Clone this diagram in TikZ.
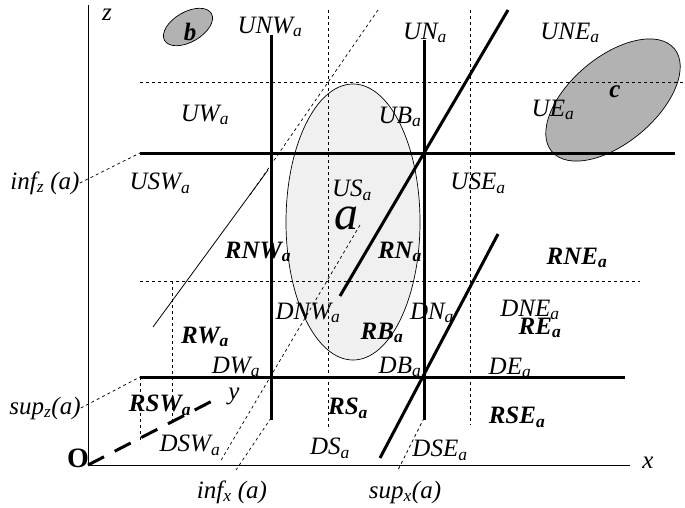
\documentclass[tikz,border=0pt]{standalone}
\usepackage{fontspec}
\setmainfont{Liberation Serif}
\begin{document}
\begin{tikzpicture}[x=1pt,y=-1pt,
  thick line/.style={line width=3pt},
  thin dash/.style={dashed,line width=0.7pt},
  lb/.style={font=\itshape\fontsize{25}{25}\selectfont,inner sep=0pt},
  bl/.style={font=\bfseries\itshape\fontsize{25}{25}\selectfont,inner sep=0pt}]
\useasboundingbox (0,0) rectangle (685,507);
% axes
\coordinate (O) at (88,465);
\coordinate (ztop) at (88,5);
\coordinate (xend) at (630,465);
\coordinate (yend) at (218,398);
\draw[line width=0.8pt] (ztop) -- (O) -- (xend);
\draw[line width=3pt,dash pattern=on 18pt off 12pt] (O) -- (yend);
\node[lb] (zl) at (107,15) {z};
\node[lb] (xl) at (648,463) {x};
\node[lb] (yl) at (234,396) {y};
\node[font=\bfseries\fontsize{28}{28}\selectfont,inner sep=0pt] (Ol) at (78,458) {O};
% ellipses
\draw[fill=black!6,line width=0.7pt] (353,222) ellipse [x radius=67,y radius=138];
\draw[fill=black!30,line width=0.7pt,rotate around={30:(188,27)}] (188,27) ellipse [x radius=27,y radius=15];
\draw[fill=black!30,line width=0.7pt,rotate around={40:(613,100)}] (613,100) ellipse [x radius=80,y radius=43];
% dashed grid
\draw[thin dash] (140,82) -- (685,82);
\draw[thin dash] (140,281) -- (640,281);
\draw[thin dash] (328,10) -- (328,430);
\draw[thin dash] (470,10) -- (470,425);
\draw[thin dash] (172,281) -- (172,425);
\draw[thin dash] (140,377) -- (140,443);
\draw[thin dash] (378,10) -- (250,195);
\draw[thin dash] (360,225) -- (220,462);
\draw[thin dash] (271,418) -- (236,470);
\draw[thin dash] (424,418) -- (398,470);
% thin diagonal
\draw[line width=0.8pt] (153,327) -- (268,170);
% thick lines
\draw[thick line] (140,153) -- (675,153);
\draw[thick line] (140,377) -- (625,377);
\draw[thick line] (271,35) -- (271,420);
\draw[thick line] (424,40) -- (424,420);
\draw[thick line] (340,296) -- (508,10);
\draw[thick line] (380,458) -- (498,234);
% side labels
\node[lb] (iz) at (45,183) {inf\textsubscript{z} (a)};
\node[lb] (sz) at (45,408) {sup\textsubscript{z}(a)};
\node[lb] (ix) at (232,492) {inf\textsubscript{x} (a)};
\node[lb] (sx) at (405,492) {sup\textsubscript{x}(a)};
\coordinate (c1) at (140,153);
\coordinate (c2) at (140,377);
\draw[thin dash] (iz.east) -- (c1);
\draw[thin dash] (sz.east) -- (c2);
% region labels
\newcommand{\rl}[4]{\node[#1] (#2) at (#3) {#4};}
\rl{bl}{nb}{190,32}{b}
\rl{bl}{nc}{615,92}{c}
\node[font=\itshape\fontsize{48}{48}\selectfont,inner sep=0pt] (na) at (346,218) {a};
\rl{lb}{n1}{270,27}{UNW\textsubscript{a}}
\rl{lb}{n2}{425,33}{UN\textsubscript{a}}
\rl{lb}{n3}{570,33}{UNE\textsubscript{a}}
\rl{lb}{n4}{205,115}{UW\textsubscript{a}}
\rl{lb}{n5}{400,117}{UB\textsubscript{a}}
\rl{lb}{n6}{553,110}{UE\textsubscript{a}}
\rl{lb}{n7}{160,183}{USW\textsubscript{a}}
\rl{lb}{n8}{352,190}{US\textsubscript{a}}
\rl{lb}{n9}{478,183}{USE\textsubscript{a}}
\rl{bl}{n10}{258,252}{RNW\textsubscript{a}}
\rl{bl}{n11}{400,252}{RN\textsubscript{a}}
\rl{bl}{n12}{577,258}{RNE\textsubscript{a}}
\rl{lb}{n13}{308,313}{DNW\textsubscript{a}}
\rl{lb}{n14}{432,313}{DN\textsubscript{a}}
\rl{lb}{n15}{530,310}{DNE\textsubscript{a}}
\rl{bl}{n16}{540,328}{RE\textsubscript{a}}
\rl{bl}{n17}{205,337}{RW\textsubscript{a}}
\rl{bl}{n18}{382,333}{RB\textsubscript{a}}
\rl{lb}{n19}{236,367}{DW\textsubscript{a}}
\rl{lb}{n20}{400,367}{DB\textsubscript{a}}
\rl{lb}{n21}{510,368}{DE\textsubscript{a}}
\rl{bl}{n22}{160,405}{RSW\textsubscript{a}}
\rl{bl}{n23}{348,408}{RS\textsubscript{a}}
\rl{bl}{n24}{517,417}{RSE\textsubscript{a}}
\rl{lb}{n25}{190,445}{DSW\textsubscript{a}}
\rl{lb}{n26}{330,448}{DS\textsubscript{a}}
\rl{lb}{n27}{440,450}{DSE\textsubscript{a}}
\end{tikzpicture}
\end{document}
